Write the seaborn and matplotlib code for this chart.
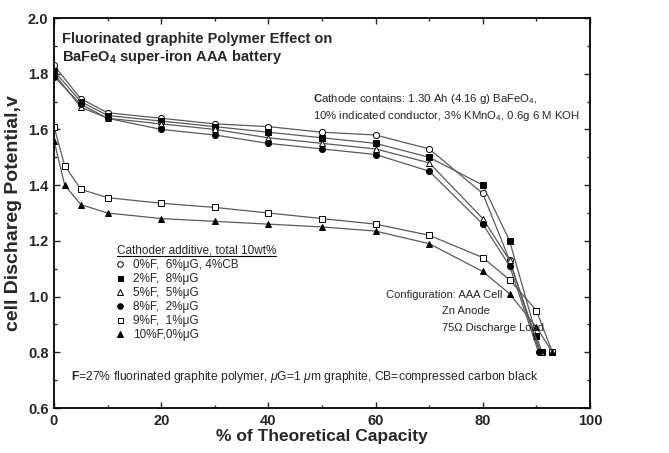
import matplotlib
matplotlib.use("Agg")
import matplotlib.pyplot as plt
from matplotlib.lines import Line2D
from matplotlib.ticker import MultipleLocator
import seaborn as sns
import pandas as pd

# ---------------- data ----------------
series_labels = ["0%F,  6%\u03bcG, 4%CB", "2%F,  8%\u03bcG", "5%F,  5%\u03bcG",
                 "8%F,  2%\u03bcG", "9%F,  1%\u03bcG", "10%F,0%\u03bcG"]

x_a = [0, 5, 10, 20, 30, 40, 50, 60, 70, 80, 85, 90.6]
y_a = [1.83, 1.71, 1.66, 1.64, 1.62, 1.61, 1.59, 1.58, 1.53, 1.37, 1.13, 0.80]

x_b = [0, 5, 10, 20, 30, 40, 50, 60, 70, 80, 85, 90, 91.0]
y_b = [1.81, 1.70, 1.65, 1.63, 1.61, 1.59, 1.57, 1.55, 1.50, 1.40, 1.20, 0.86, 0.80]

x_c = [0, 5, 10, 20, 30, 40, 50, 60, 70, 80, 85, 90.8]
y_c = [1.80, 1.68, 1.64, 1.62, 1.60, 1.57, 1.55, 1.53, 1.48, 1.28, 1.13, 0.80]

x_d = [0, 5, 10, 20, 30, 40, 50, 60, 70, 80, 85, 90.4]
y_d = [1.79, 1.69, 1.64, 1.60, 1.58, 1.55, 1.53, 1.51, 1.45, 1.26, 1.11, 0.80]

x_e = [0, 2, 5, 10, 20, 30, 40, 50, 60, 70, 80, 85, 90, 93]
y_e = [1.61, 1.47, 1.385, 1.355, 1.335, 1.32, 1.30, 1.28, 1.26, 1.22, 1.14, 1.06, 0.95, 0.80]

x_f = [0, 2, 5, 10, 20, 30, 40, 50, 60, 70, 80, 85, 90, 93]
y_f = [1.56, 1.40, 1.33, 1.30, 1.28, 1.27, 1.26, 1.25, 1.235, 1.19, 1.09, 1.01, 0.89, 0.80]

x_ticks = [0, 20, 40, 60, 80, 100]
y_ticks = [0.6, 0.8, 1.0, 1.2, 1.4, 1.6, 1.8, 2.0]

# ---------------- style ----------------
sns.set_style("ticks")
plt.rcParams["font.family"] = ["Liberation Sans", "DejaVu Sans"]
plt.rcParams["mathtext.fontset"] = "custom"
plt.rcParams["mathtext.rm"] = "Liberation Sans"
plt.rcParams["mathtext.it"] = "Liberation Sans:italic"
plt.rcParams["mathtext.bf"] = "Liberation Sans:bold"

W, H = 669, 453
fig = plt.figure(figsize=(W / 100, H / 100), dpi=100)
L, R, T, B = 54, 590, 18, 408
ax = fig.add_axes([L / W, 1 - B / H, (R - L) / W, (B - T) / H])

styles = [
    dict(marker="o", mfc="white"),
    dict(marker="s", mfc="black"),
    dict(marker="^", mfc="white"),
    dict(marker="o", mfc="black"),
    dict(marker="s", mfc="white"),
    dict(marker="^", mfc="black"),
]
xs = [x_a, x_b, x_c, x_d, x_e, x_f]
ys = [y_a, y_b, y_c, y_d, y_e, y_f]

line_color = "#5a5a5a"
for xv, yv, st in zip(xs, ys, styles):
    df = pd.DataFrame({"cap": xv, "v": yv})
    sns.lineplot(data=df, x="cap", y="v", ax=ax, estimator=None, sort=False,
                 color=line_color, linewidth=0.9, marker=st["marker"],
                 markersize=4.4 if st["marker"] != "s" else 4.0,
                 markerfacecolor=st["mfc"], markeredgecolor="black",
                 markeredgewidth=0.7, legend=False)

ax.set_xlim(0, 100)
ax.set_ylim(0.6, 2.0)
ax.set_xticks(x_ticks)
ax.set_yticks(y_ticks)
ax.set_xticklabels([f"{t:d}" for t in x_ticks])
ax.set_yticklabels([f"{t:.1f}" for t in y_ticks])
ax.xaxis.set_minor_locator(MultipleLocator(10))
ax.yaxis.set_minor_locator(MultipleLocator(0.1))
ax.tick_params(which="both", direction="in", top=True, right=True, width=1.0)
ax.tick_params(which="major", length=4, pad=4)
ax.tick_params(which="minor", length=2.5)
for lbl in ax.get_xticklabels() + ax.get_yticklabels():
    lbl.set_fontsize(10.5)
    lbl.set_fontweight("bold")
for sp in ax.spines.values():
    sp.set_linewidth(1.3)
    sp.set_color("black")

ax.set_xlabel("% of Theoretical Capacity", fontsize=12.5, fontweight="bold", labelpad=1)
ax.set_ylabel("cell Dischareg Potential,v", fontsize=14, fontweight="bold", labelpad=4)


def ftext(px, py, s, **kw):
    fig.text(px / W, 1 - py / H, s, va="center", ha=kw.pop("ha", "left"), **kw)


ftext(62, 39, "Fluorinated graphite Polymer Effect on", fontsize=10.5, fontweight="bold")
ftext(62, 57, "BaFeO$_\\mathbf{4}$ super-iron AAA battery", fontsize=10.5, fontweight="bold")

ftext(313, 99, "$\\mathbf{C}$athode contains: 1.30 Ah (4.16 g) BaFeO$_4$,", fontsize=8.2)
ftext(313, 116, "10% indicated conductor, 3% KMnO$_4$, 0.6g 6 M KOH", fontsize=8.2)

ftext(386, 295, "Configuration: AAA Cell", fontsize=8.0)
ftext(442, 311, "Zn Anode", fontsize=8.0)
ftext(442, 328, "75\u03a9 Discharge Load", fontsize=8.0)

ftext(71, 377, "$\\mathbf{F}$=27% fluorinated graphite polymer, $\\mu$G=1 $\\mu$m graphite, "
      "CB=compressed carbon black", fontsize=8.7)

# legend title (underlined)
t = fig.text(117 / W, 1 - 250 / H, "Cathoder additive, total 10wt%", fontsize=8.5,
             va="center", ha="left")
fig.canvas.draw()
bb = t.get_window_extent().transformed(fig.transFigure.inverted())
fig.add_artist(Line2D([bb.x0, bb.x1], [bb.y0 - 0.001, bb.y0 - 0.001],
                      transform=fig.transFigure, color="black", linewidth=0.8))

handles = [Line2D([], [], linestyle="none", marker=st["marker"],
                  markersize=4.0 if st["marker"] != "s" else 3.6,
                  markerfacecolor=st["mfc"], markeredgecolor="black",
                  markeredgewidth=0.7) for st in styles]
leg = ax.legend(handles, series_labels, loc="upper left",
                bbox_to_anchor=((115 - L) / (R - L), (B - 259) / (B - T)),
                frameon=False, fontsize=8.5, handlelength=0.9, handletextpad=0.6,
                labelspacing=0.17, borderpad=0, borderaxespad=0)

fig.savefig("out.png", dpi=100)
